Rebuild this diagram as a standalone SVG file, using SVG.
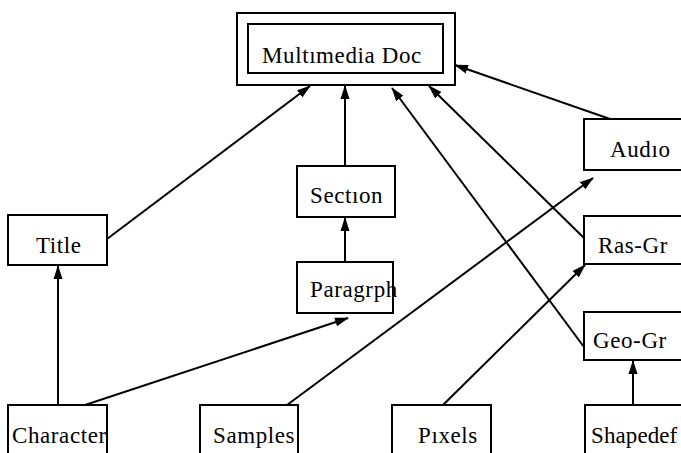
<svg xmlns="http://www.w3.org/2000/svg" width="681" height="453" viewBox="0 0 681 453">
  <style>
    .box { fill: #fff; stroke: #000; stroke-width: 2; }
    .lbl { font-family: "Liberation Serif", "Times New Roman", serif; font-size: 23px; letter-spacing: 0.6px; fill: #000; }
    .edge { stroke: #000; stroke-width: 2; fill: none; marker-end: url(#arrow); }
  </style>
  <defs>
    <marker id="arrow" markerUnits="userSpaceOnUse" markerWidth="14" markerHeight="10" refX="13" refY="5" orient="auto">
      <path d="M0,0.5 L14,5 L0,9.5 Z" fill="#000"/>
    </marker>
  </defs>
  <rect width="681" height="453" fill="#fff"/>

  <g id="connectors">
    <line class="edge" x1="107" y1="239" x2="310" y2="86"/>
    <line class="edge" x1="345" y1="166" x2="345" y2="86"/>
    <line class="edge" x1="584" y1="347" x2="392" y2="88"/>
    <line class="edge" x1="584" y1="238" x2="429" y2="86"/>
    <line class="edge" x1="610" y1="119" x2="455" y2="65"/>
    <line class="edge" x1="345" y1="262" x2="345" y2="218"/>
    <line class="edge" x1="58" y1="405" x2="58" y2="266"/>
    <line class="edge" x1="85" y1="405" x2="348" y2="318"/>
    <line class="edge" x1="287" y1="405" x2="593" y2="178"/>
    <line class="edge" x1="443" y1="405" x2="585" y2="265"/>
    <line class="edge" x1="633" y1="405" x2="633" y2="361"/>
  </g>

  <g id="multimedia-doc">
    <rect class="box" x="237" y="13" width="218" height="72"/>
    <rect class="box" x="248" y="24" width="195" height="49"/>
    <text class="lbl" x="262" y="63">Multımedia Doc</text>
  </g>
  <g id="title">
    <rect class="box" x="8" y="215" width="99" height="50"/>
    <text class="lbl" x="36" y="253">Title</text>
  </g>
  <g id="section">
    <rect class="box" x="297" y="166" width="98" height="51"/>
    <text class="lbl" x="310" y="203">Sectıon</text>
  </g>
  <g id="paragrph">
    <rect class="box" x="297" y="262" width="96" height="51"/>
    <text class="lbl" x="310" y="297">Paragrph</text>
  </g>
  <g id="audio">
    <rect class="box" x="584" y="119" width="110" height="51"/>
    <text class="lbl" x="610" y="157">Audıo</text>
  </g>
  <g id="ras-gr">
    <rect class="box" x="584" y="216" width="110" height="48"/>
    <text class="lbl" x="598" y="253">Ras-Gr</text>
  </g>
  <g id="geo-gr">
    <rect class="box" x="584" y="312" width="110" height="48"/>
    <text class="lbl" x="593" y="348">Geo-Gr</text>
  </g>
  <g id="character">
    <rect class="box" x="8" y="405" width="99" height="60"/>
    <text class="lbl" x="12" y="443">Character</text>
  </g>
  <g id="samples">
    <rect class="box" x="200" y="405" width="98" height="60"/>
    <text class="lbl" x="213" y="443">Samples</text>
  </g>
  <g id="pixels">
    <rect class="box" x="392" y="405" width="99" height="60"/>
    <text class="lbl" x="418" y="443">Pıxels</text>
  </g>
  <g id="shapedef">
    <rect class="box" x="585" y="405" width="110" height="60"/>
    <text class="lbl" x="591" y="443" style="letter-spacing:0.1px">Shapedef</text>
  </g>
</svg>
